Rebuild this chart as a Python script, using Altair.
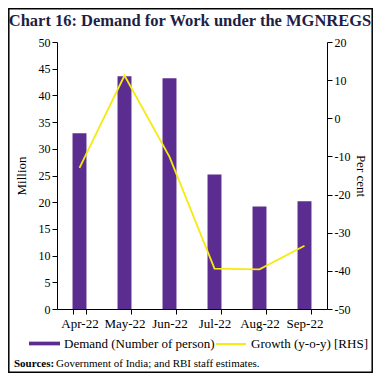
import altair as alt
import pandas as pd

months = ["Apr-22", "May-22", "Jun-22", "Jul-22", "Aug-22", "Sep-22"]
demand = [32.9, 43.6, 43.2, 25.2, 19.2, 20.2]
growth = [-13.0, 11.2, -10.1, -39.4, -39.6, -33.4]
demand_label = "Demand (Number of person)"
growth_label = "Growth (y-o-y) [RHS]"
left_ticks = list(range(0, 51, 5))
right_ticks = list(range(-50, 21, 10))
title_text = "Chart 16: Demand for Work under the MGNREGS"
source_bold = "Sources:"
source_text = "Government of India; and RBI staff estimates."

PURPLE = "#5C2D91"
YELLOW = "#F7EA10"
FONT = "Liberation Serif"
LBL = 12

df = pd.DataFrame({"month": months, "demand": demand, "growth": growth,
                   "s1": demand_label, "s2": growth_label})

xenc = alt.X("month:N", sort=months, title=None,
             scale=alt.Scale(paddingInner=0.69, paddingOuter=0.345),
             axis=alt.Axis(labelAngle=0, tickBand="extent", labelFont=FONT,
                           labelFontSize=LBL + 1, labelColor="black", domainColor="black",
                           tickColor="black", tickSize=5, labelPadding=3))

bars = alt.Chart(df).mark_bar().encode(
    x=xenc,
    y=alt.Y("demand:Q", title="Million", scale=alt.Scale(domain=[0, 50], nice=False),
            axis=alt.Axis(values=left_ticks, grid=False, labelFont=FONT, labelFontSize=LBL,
                          labelColor="black", domainColor="black", tickColor="black",
                          tickSize=5, titleFont=FONT, titleFontSize=13,
                          titleFontWeight="normal", titleColor="black", titlePadding=10)),
    color=alt.Color("s1:N", scale=alt.Scale(range=[PURPLE]),
                    legend=alt.Legend(title=None, orient="none", legendX=-28, legendY=286,
                                      symbolType="M-1,-0.12H1V0.12H-1Z", symbolSize=960,
                                      symbolStrokeWidth=0, labelFont=FONT, labelFontSize=13,
                                      labelColor="black", symbolOpacity=1)),
)

line = alt.Chart(df).mark_line(strokeWidth=1.8).encode(
    x=xenc,
    y=alt.Y("growth:Q", title="Per cent", scale=alt.Scale(domain=[-50, 20], nice=False),
            axis=alt.Axis(orient="right", values=right_ticks, grid=False, labelFont=FONT,
                          labelFontSize=LBL, labelColor="black", domainColor="black",
                          tickColor="black", tickSize=5, titleFont=FONT, titleFontSize=13,
                          titleFontWeight="normal", titleColor="black", titlePadding=4,
                          labelExpr="toString(datum.value)")),
    stroke=alt.Stroke("s2:N", scale=alt.Scale(range=[YELLOW]),
                      legend=alt.Legend(title=None, orient="none", legendX=158, legendY=286,
                                        symbolType="stroke", symbolSize=900,
                                        symbolStrokeWidth=2, labelFont=FONT,
                                        labelFontSize=13, labelColor="black")),
)

ttl = alt.Chart(pd.DataFrame({"t": [title_text]})).mark_text(
    align="center", baseline="alphabetic", font=FONT, fontSize=16.5, fontWeight="bold",
    color="#1d1f45").encode(text="t:N", x=alt.value(133), y=alt.value(-16))
src1 = alt.Chart(pd.DataFrame({"t": [source_bold]})).mark_text(
    align="left", baseline="alphabetic", font=FONT, fontSize=11, fontWeight="bold",
    color="black").encode(text="t:N", x=alt.value(-43), y=alt.value(325))
src2 = alt.Chart(pd.DataFrame({"t": [source_text]})).mark_text(
    align="left", baseline="alphabetic", font=FONT, fontSize=11,
    color="black").encode(text="t:N", x=alt.value(-1), y=alt.value(325))

frame = alt.Chart(pd.DataFrame({"a": [0]})).mark_rect(
    fill="transparent", stroke="black", strokeWidth=1.5).encode(
    x=alt.value(-48.2), x2=alt.value(315.2), y=alt.value(-33.2), y2=alt.value(330.2))

chart = alt.layer(bars, line, ttl, src1, src2, frame).resolve_scale(
    y="independent", color="independent", stroke="independent"
).properties(
    width=270, height=267,
    padding={"left": 49, "top": 34, "right": 46, "bottom": 64},
    autosize=alt.AutoSizeParams(type="none"),
).configure_view(stroke=None)

chart.save("out.html", embed_options={"renderer": "svg", "actions": False})
